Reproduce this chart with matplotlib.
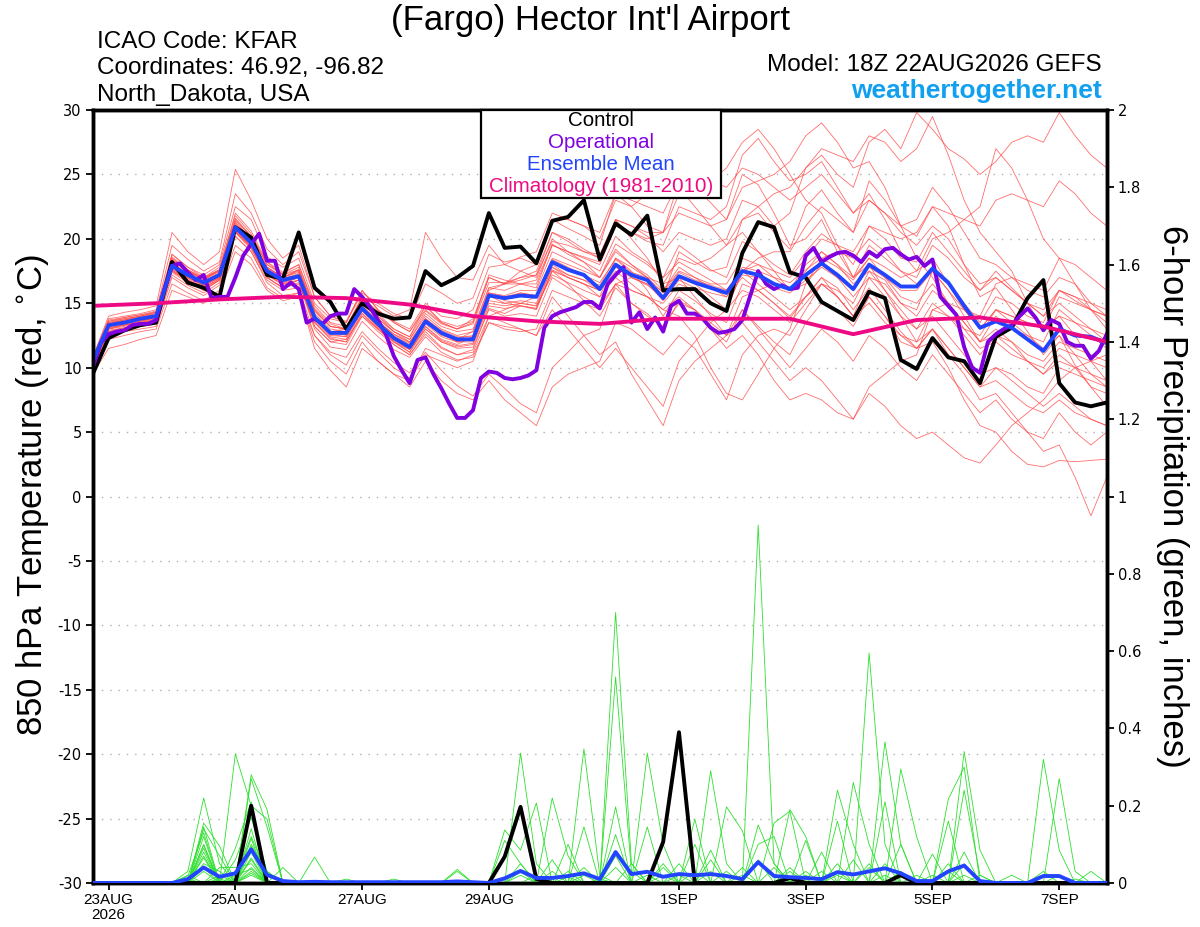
import matplotlib
matplotlib.use('Agg')
import matplotlib.pyplot as plt
from matplotlib.patches import Rectangle
import numpy as np

# ---------------- data ----------------
# time axis: hours relative to 23AUG2026 00Z (run 18Z 22AUG, 6-hourly to 384h)
hours6 = [-6 + 6 * k for k in range(65)]
hours3 = [-6 + 3 * k for k in range(129)]
clim_hours = [-6 + 24 * k for k in range(17)]

xtick_hours = [0, 48, 96, 144, 216, 264, 312, 360]
xtick_labels = ["23AUG\n2026", "25AUG", "27AUG", "29AUG", "1SEP", "3SEP", "5SEP", "7SEP"]

control_t = [9.5,
             12.3, 12.9, 13.3, 13.5, 18.2, 16.6, 16.2, 15.5, 20.9, 20.1, 17.2, 16.9,
             20.5, 16.2, 15.1, 13.0, 15.0, 14.2, 13.8, 13.9, 17.5, 16.4, 17.0, 17.9,
             22.0, 19.3, 19.4, 18.1, 21.4, 21.7, 23.0, 18.4, 21.2, 20.3, 21.8, 16.0,
             16.1, 16.1, 15.0, 14.4, 18.9, 21.3, 20.9, 17.4, 17.0, 15.1, 14.4, 13.7,
             15.9, 15.4, 10.6, 9.9, 12.3, 10.8, 10.5, 8.8, 12.4, 13.1, 15.4, 16.8,
             8.8, 7.3, 7.0, 7.3]

operational_t = [10.0, 11.9, 12.6, 12.8, 12.9, 13.3, 13.4, 13.4, 13.7, 16.0, 17.9, 18.1,
                 17.4, 16.8, 17.2, 15.4, 15.5, 15.5, 17.0, 18.7, 19.6, 20.4, 18.3, 18.3,
                 16.1, 16.6, 16.1, 13.5, 13.8, 13.4, 14.0, 14.2, 14.2, 16.1, 15.5, 14.7,
                 13.7, 12.6, 10.9, 9.8, 8.8, 10.6, 10.8, 9.5, 8.4, 7.2, 6.1, 6.1,
                 6.7, 9.2, 9.7, 9.6, 9.2, 9.1, 9.2, 9.4, 9.8, 13.1, 14.0, 14.3,
                 14.5, 14.7, 15.1, 15.1, 14.6, 16.5, 17.2, 17.8, 13.5, 14.3, 13.0, 13.9,
                 12.8, 14.8, 15.2, 14.2, 14.2, 13.8, 13.1, 12.7, 12.8, 13.0, 13.7, 15.6,
                 17.5, 16.5, 16.1, 16.4, 16.1, 16.2, 18.7, 19.3, 18.2, 18.6, 18.9, 19.0,
                 18.7, 18.2, 19.0, 18.6, 19.2, 19.3, 18.8, 18.4, 18.6, 17.9, 18.4, 15.5,
                 14.8, 14.1, 11.6, 10.0, 9.6, 12.0, 12.6, 13.0, 13.3, 14.0, 14.6, 13.9,
                 12.9, 13.7, 13.4, 12.0, 11.7, 11.7, 10.7, 11.3, 12.6]

ens_mean_t = [10.5,
              13.3, 13.5, 13.8, 14.0, 17.9, 17.2, 16.6, 17.2, 20.9, 19.7, 17.5, 16.8,
              17.1, 13.9, 12.7, 12.7, 14.6, 13.4, 12.3, 11.6, 13.6, 12.7, 12.2, 12.2,
              15.6, 15.4, 15.6, 15.5, 18.2, 17.6, 17.2, 16.1, 18.0, 17.2, 16.8, 15.4,
              17.1, 16.6, 16.2, 15.8, 17.5, 17.2, 16.5, 16.1, 17.2, 18.1, 17.2, 16.1,
              18.0, 17.2, 16.3, 16.3, 17.7, 16.6, 14.8, 13.1, 13.6, 13.1, 12.2, 11.3,
              13.0, 12.5, 12.4, 11.9]

climatology_t = [14.8, 15.0, 15.3, 15.5, 15.4, 14.9, 14.0, 13.6, 13.4,
                 13.8, 13.8, 13.8, 12.6, 13.7, 13.9, 13.2, 12.0]

member_t_01 = [10.8, 13.8, 14.0, 14.2, 14.5, 18.5, 17.6, 17.0, 17.8, 21.8, 20.4, 18.0, 17.3, 18.0, 14.8, 13.5, 13.2, 15.5, 14.2, 13.0, 12.4, 14.8, 13.6, 13.2, 13.6, 17.2, 16.8, 16.5, 16.2, 19.6, 18.8, 18.2, 17.5, 20.2, 19.0, 18.2, 17.0, 19.5, 18.6, 17.6, 17.0, 19.8, 19.0, 18.0, 17.2, 19.0, 20.4, 19.5, 18.0, 21.0, 20.0, 18.5, 18.2, 20.5, 19.0, 17.5, 16.0, 17.5, 16.2, 15.0, 14.5, 16.0, 15.2, 14.5, 14.0]
member_t_02 = [9.8, 12.5, 12.8, 13.0, 13.2, 17.0, 16.2, 15.6, 16.4, 20.2, 19.0, 16.8, 16.0, 16.2, 12.5, 11.2, 10.8, 12.8, 11.5, 10.4, 9.6, 11.2, 9.8, 8.6, 7.8, 9.5, 8.4, 7.2, 6.5, 10.0, 11.2, 12.5, 13.0, 16.5, 17.0, 16.4, 15.5, 19.0, 18.2, 17.5, 17.8, 21.5, 22.0, 20.5, 19.2, 22.5, 23.8, 22.0, 20.5, 24.5, 23.0, 21.0, 20.2, 22.5, 21.0, 18.0, 15.5, 16.2, 14.5, 12.8, 11.0, 12.5, 10.2, 8.5, 7.0]
member_t_03 = [10.2, 13.0, 13.4, 13.6, 13.9, 18.8, 17.8, 17.2, 18.0, 22.5, 21.5, 18.6, 17.8, 18.5, 15.0, 13.8, 13.5, 15.8, 15.0, 14.2, 13.8, 16.5, 15.8, 15.0, 15.4, 18.8, 18.2, 18.5, 18.0, 21.5, 20.8, 20.2, 19.5, 23.5, 22.5, 21.0, 20.5, 24.5, 24.0, 22.8, 21.5, 25.0, 24.2, 22.0, 19.5, 20.0, 21.5, 19.0, 17.0, 18.5, 17.0, 15.5, 15.0, 16.5, 15.0, 13.5, 12.0, 13.0, 12.0, 10.5, 9.5, 11.0, 10.0, 8.5, 8.0]
member_t_04 = [10.6, 13.6, 13.9, 14.1, 14.4, 19.5, 18.4, 17.5, 18.2, 23.5, 22.0, 19.2, 18.0, 19.0, 15.5, 14.0, 13.6, 16.0, 14.5, 13.5, 12.8, 14.8, 13.5, 13.0, 13.8, 17.0, 16.5, 16.8, 17.2, 20.5, 19.8, 19.0, 18.5, 21.5, 21.0, 20.2, 19.0, 20.5, 20.0, 19.5, 20.0, 23.0, 22.5, 21.0, 22.0, 25.5, 26.5, 25.0, 24.0, 27.5, 28.5, 27.0, 29.8, 28.5, 27.0, 26.2, 25.0, 26.0, 27.5, 28.0, 27.5, 29.8, 28.0, 26.5, 25.5]
member_t_05 = [10.0, 12.8, 13.0, 13.2, 13.5, 17.5, 16.8, 16.0, 16.8, 20.5, 19.2, 17.0, 16.2, 16.8, 13.2, 12.0, 12.2, 14.0, 13.0, 12.0, 11.2, 13.0, 12.0, 11.5, 11.6, 14.5, 14.0, 14.2, 14.0, 17.0, 16.2, 15.5, 14.8, 16.5, 15.0, 14.0, 13.2, 15.0, 14.5, 13.0, 12.0, 14.5, 13.2, 12.0, 11.0, 13.5, 15.0, 14.5, 13.2, 15.5, 14.0, 12.0, 11.5, 13.0, 11.0, 9.5, 7.5, 8.0, 6.5, 5.0, 3.5, 4.0, 1.5, -1.5, 1.5]
member_t_06 = [10.3, 13.2, 13.4, 13.6, 13.9, 18.0, 17.0, 16.4, 17.0, 20.8, 19.5, 17.2, 16.5, 17.0, 13.5, 12.3, 12.0, 14.2, 13.0, 11.8, 11.0, 12.8, 11.6, 11.0, 11.4, 14.6, 14.2, 14.8, 14.5, 17.6, 17.0, 16.5, 15.5, 18.5, 17.5, 16.0, 14.0, 16.0, 15.2, 14.2, 13.5, 16.5, 16.0, 15.0, 13.8, 15.5, 17.0, 16.2, 14.5, 16.2, 14.5, 12.8, 11.5, 12.0, 10.0, 7.5, 5.5, 5.0, 3.5, 2.5, 2.3, 2.8, 2.7, 2.8, 2.9]
member_t_07 = [10.4, 13.4, 13.7, 13.9, 14.2, 18.2, 17.4, 16.8, 17.5, 21.2, 20.0, 17.8, 17.0, 17.5, 14.2, 13.0, 12.8, 15.0, 13.8, 12.8, 12.2, 14.2, 13.2, 12.8, 13.0, 16.2, 16.0, 16.5, 16.8, 19.5, 19.0, 18.6, 18.2, 21.0, 20.5, 19.8, 19.5, 22.5, 22.0, 21.5, 22.5, 26.5, 27.8, 26.0, 24.5, 25.0, 26.0, 24.0, 22.0, 23.5, 21.5, 19.0, 17.5, 18.5, 16.5, 14.5, 13.0, 14.5, 13.5, 12.5, 12.0, 14.5, 13.5, 13.0, 12.5]
member_t_08 = [9.6, 12.2, 12.5, 12.8, 13.0, 16.5, 15.8, 15.2, 16.0, 19.5, 18.5, 16.2, 15.4, 15.8, 12.0, 10.5, 9.5, 12.0, 10.5, 9.5, 8.5, 10.5, 9.0, 8.0, 7.5, 9.0, 7.5, 6.5, 5.5, 8.5, 9.5, 10.0, 10.5, 13.5, 13.0, 12.0, 11.0, 12.5, 11.5, 9.5, 7.5, 11.0, 12.5, 13.0, 12.5, 14.5, 16.5, 16.0, 15.0, 17.5, 16.8, 15.0, 14.0, 16.0, 15.0, 13.5, 12.0, 14.0, 13.0, 12.5, 11.5, 12.5, 11.0, 9.5, 8.5]
member_t_09 = [10.1, 13.1, 13.3, 13.6, 13.8, 17.8, 17.0, 16.4, 17.0, 21.0, 19.8, 17.4, 16.6, 17.2, 14.0, 12.8, 12.5, 14.8, 13.6, 12.5, 11.8, 13.8, 12.8, 12.0, 12.2, 15.8, 15.5, 15.8, 15.6, 18.0, 17.2, 16.8, 16.4, 18.5, 17.8, 17.0, 16.5, 18.5, 18.0, 18.5, 19.5, 21.5, 22.5, 23.5, 24.0, 25.5, 27.0, 26.5, 26.0, 28.0, 27.5, 26.0, 27.0, 29.5, 26.5, 23.0, 20.5, 19.0, 17.5, 15.0, 13.0, 14.0, 12.5, 10.5, 9.0]
member_t_10 = [10.7, 13.7, 13.9, 14.1, 14.3, 18.8, 17.8, 17.0, 17.6, 21.6, 20.2, 18.2, 17.2, 17.6, 14.5, 13.2, 13.0, 15.2, 14.0, 12.8, 12.0, 13.8, 12.6, 12.0, 12.4, 15.6, 15.0, 14.8, 14.6, 17.5, 16.5, 15.2, 14.0, 16.2, 15.0, 14.2, 13.0, 15.2, 14.5, 13.5, 12.5, 14.5, 13.0, 11.5, 10.0, 11.5, 13.0, 12.0, 10.5, 12.5, 11.5, 10.0, 9.0, 11.0, 9.5, 8.0, 6.5, 7.5, 6.0, 5.0, 4.5, 6.5, 5.0, 4.0, 5.0]
member_t_11 = [10.2, 13.0, 13.3, 13.5, 13.7, 17.4, 16.6, 16.0, 16.8, 20.6, 19.4, 17.2, 16.4, 16.8, 13.8, 12.8, 13.0, 15.5, 14.8, 14.0, 14.5, 20.5, 18.5, 17.0, 16.8, 19.5, 18.0, 17.5, 17.0, 20.0, 19.0, 18.2, 17.0, 19.2, 18.0, 17.2, 16.0, 17.8, 17.0, 16.2, 15.5, 17.0, 16.0, 15.0, 14.0, 15.5, 17.0, 15.5, 14.0, 15.0, 13.5, 12.5, 12.0, 14.5, 14.0, 13.0, 12.5, 14.5, 14.0, 13.5, 13.0, 15.5, 15.0, 14.5, 14.0]
member_t_12 = [10.5, 13.5, 13.7, 14.0, 14.3, 18.4, 17.5, 16.9, 17.5, 21.4, 20.2, 17.8, 17.0, 17.6, 14.0, 12.8, 12.6, 14.6, 13.6, 12.6, 12.0, 13.6, 12.5, 12.2, 12.8, 16.2, 16.5, 17.5, 18.0, 21.5, 21.5, 21.0, 20.5, 23.5, 23.0, 22.5, 22.0, 24.5, 24.0, 24.5, 25.5, 27.5, 28.5, 27.0, 25.0, 23.0, 22.0, 19.5, 17.0, 18.0, 16.0, 14.0, 12.0, 13.0, 11.5, 10.0, 8.5, 10.0, 9.5, 8.5, 8.0, 10.0, 9.5, 9.0, 8.5]
member_t_13 = [9.9, 12.6, 12.9, 13.2, 13.4, 17.2, 16.4, 15.8, 16.6, 20.2, 19.0, 16.6, 15.6, 15.8, 11.5, 9.8, 8.5, 11.5, 10.5, 9.5, 9.0, 11.0, 10.5, 10.0, 10.5, 14.0, 14.5, 15.0, 15.5, 18.5, 18.0, 17.5, 17.0, 19.0, 18.0, 17.0, 15.5, 17.0, 16.5, 15.5, 14.5, 16.0, 15.5, 14.5, 13.5, 15.0, 16.5, 15.5, 14.0, 17.0, 16.5, 15.0, 14.5, 17.5, 16.5, 15.0, 13.5, 15.5, 15.0, 14.0, 13.5, 16.0, 15.5, 14.5, 13.5]
member_t_14 = [10.4, 13.3, 13.6, 13.8, 14.0, 18.0, 17.2, 16.6, 17.3, 21.0, 19.8, 17.6, 16.9, 17.3, 13.8, 12.6, 12.4, 14.5, 13.2, 12.0, 11.2, 13.2, 12.2, 11.8, 12.4, 16.0, 16.5, 17.0, 17.5, 20.5, 20.0, 19.2, 18.5, 21.5, 20.0, 18.5, 16.5, 17.0, 15.5, 14.0, 12.5, 13.5, 12.0, 10.5, 9.0, 10.0, 9.0, 7.5, 6.0, 8.5, 9.5, 10.5, 11.0, 14.5, 15.0, 14.5, 14.0, 16.5, 17.0, 16.5, 16.0, 18.5, 18.0, 17.0, 16.0]
member_t_15 = [10.0, 12.9, 13.1, 13.4, 13.6, 17.6, 16.8, 16.2, 16.9, 20.6, 19.4, 17.2, 16.5, 16.8, 13.2, 12.0, 11.8, 14.0, 12.8, 11.8, 11.0, 12.6, 11.5, 11.0, 11.2, 14.0, 13.5, 13.0, 12.5, 15.5, 14.0, 12.5, 11.0, 12.0, 9.5, 7.5, 5.5, 9.0, 10.5, 11.5, 12.5, 15.5, 16.0, 16.5, 16.0, 18.0, 19.0, 18.0, 17.0, 19.5, 18.5, 17.5, 17.0, 19.5, 18.5, 17.0, 16.0, 17.0, 16.0, 15.0, 14.0, 15.0, 14.0, 13.0, 12.0]
member_t_16 = [10.6, 13.5, 13.8, 14.0, 14.3, 18.3, 17.5, 16.8, 17.6, 21.3, 20.0, 17.8, 17.0, 17.6, 14.4, 13.2, 13.0, 15.0, 13.8, 12.8, 12.2, 14.0, 13.0, 12.5, 12.8, 15.8, 15.2, 15.0, 14.8, 17.8, 17.0, 16.5, 16.0, 18.0, 17.0, 16.5, 16.0, 17.5, 17.0, 16.5, 16.5, 18.5, 18.0, 17.5, 17.0, 18.5, 20.0, 19.5, 19.0, 21.0, 20.5, 20.0, 20.5, 22.5, 22.0, 21.5, 21.0, 23.0, 23.5, 23.0, 22.5, 24.5, 23.5, 22.0, 21.0]
member_t_17 = [10.3, 13.2, 13.5, 13.7, 13.9, 17.7, 17.0, 16.4, 17.1, 20.8, 19.6, 17.4, 16.7, 17.0, 13.7, 12.5, 12.4, 14.4, 13.2, 12.2, 11.5, 13.4, 12.4, 12.0, 12.0, 15.2, 15.0, 15.2, 15.0, 17.8, 17.2, 16.8, 16.0, 17.8, 17.0, 16.5, 15.2, 16.8, 16.2, 15.8, 15.5, 17.2, 17.0, 16.2, 15.8, 16.8, 17.8, 17.0, 16.0, 17.8, 17.0, 16.0, 16.0, 17.5, 16.0, 14.0, 12.0, 12.5, 11.5, 10.5, 9.5, 10.5, 10.0, 9.5, 9.0]
member_t_18 = [10.1, 13.0, 13.2, 13.5, 13.7, 17.5, 16.7, 16.1, 16.8, 20.5, 19.3, 17.0, 16.2, 16.5, 13.5, 12.2, 12.0, 14.2, 13.0, 12.0, 11.4, 13.0, 12.0, 11.6, 11.8, 14.8, 14.6, 14.8, 14.6, 17.5, 17.0, 16.5, 16.0, 17.5, 16.5, 15.5, 14.5, 15.5, 14.5, 13.0, 11.5, 12.5, 11.0, 9.0, 7.5, 8.0, 7.5, 6.5, 6.0, 8.0, 7.0, 5.5, 4.5, 5.0, 4.0, 3.0, 2.6, 4.0, 5.5, 6.5, 7.5, 9.0, 10.0, 10.5, 11.0]
member_t_19 = [10.8, 14.0, 14.3, 14.5, 14.8, 20.5, 19.0, 18.0, 19.0, 25.4, 23.0, 20.0, 18.5, 19.5, 15.5, 14.0, 13.5, 16.0, 14.5, 13.5, 12.8, 14.5, 13.5, 13.0, 13.5, 17.0, 16.5, 16.5, 16.5, 19.5, 19.0, 18.5, 18.0, 21.0, 20.5, 20.0, 20.5, 23.5, 24.0, 24.5, 24.0, 25.5, 25.0, 24.0, 23.0, 24.0, 25.0, 23.5, 22.0, 23.0, 22.0, 20.5, 19.5, 21.0, 20.0, 18.0, 16.5, 17.0, 16.0, 15.0, 14.0, 16.0, 15.5, 15.0, 14.5]
member_t_20 = [9.5, 11.5, 11.8, 12.2, 12.5, 16.0, 15.5, 15.0, 15.8, 19.0, 18.0, 16.0, 15.2, 15.5, 12.5, 11.0, 10.2, 12.5, 11.2, 10.0, 9.2, 11.5, 11.0, 10.5, 11.0, 13.5, 13.0, 12.8, 13.0, 16.0, 15.5, 15.0, 14.5, 16.5, 16.0, 15.5, 15.0, 16.5, 16.0, 15.0, 14.5, 17.5, 18.0, 17.0, 16.0, 17.5, 19.0, 18.0, 16.5, 17.5, 16.0, 14.5, 13.0, 14.0, 12.5, 11.0, 9.5, 10.0, 9.0, 8.0, 7.0, 8.0, 7.0, 6.0, 5.5]
member_t_21 = [10.4, 13.4, 13.6, 13.9, 14.1, 18.6, 17.6, 16.9, 17.6, 22.0, 20.6, 18.2, 17.4, 18.0, 14.6, 13.4, 13.0, 15.4, 14.4, 13.6, 13.0, 15.0, 14.0, 13.8, 14.5, 17.8, 18.0, 18.6, 19.0, 22.0, 21.5, 21.0, 20.0, 23.0, 22.5, 23.5, 25.0, 24.0, 22.5, 21.0, 19.5, 20.5, 19.0, 17.5, 16.0, 16.5, 18.0, 17.0, 15.5, 17.0, 15.5, 14.0, 13.0, 15.0, 14.0, 12.5, 11.0, 12.5, 12.0, 11.0, 10.5, 12.0, 11.5, 11.0, 10.5]
member_t_22 = [10.0, 12.8, 13.1, 13.3, 13.6, 17.6, 16.8, 16.2, 16.9, 20.6, 19.4, 17.0, 16.2, 16.6, 13.0, 11.6, 11.4, 13.6, 12.4, 11.4, 10.8, 12.4, 11.2, 10.6, 10.8, 13.5, 13.2, 13.0, 12.5, 14.5, 13.0, 11.5, 10.0, 11.5, 10.0, 8.5, 7.0, 10.5, 12.0, 13.5, 14.5, 17.5, 18.5, 19.0, 19.0, 21.0, 22.5, 21.5, 20.5, 23.0, 22.0, 21.0, 21.5, 24.0, 22.5, 20.5, 18.5, 18.0, 17.0, 16.0, 15.5, 17.0, 16.5, 15.0, 14.0]
member_t_23 = [10.5, 13.4, 13.7, 13.9, 14.1, 18.1, 17.3, 16.7, 17.4, 21.1, 19.9, 17.7, 17.0, 17.4, 14.0, 12.8, 12.8, 14.8, 13.6, 12.6, 11.9, 13.8, 12.9, 12.4, 12.4, 15.6, 15.4, 15.8, 15.6, 18.4, 17.8, 17.2, 16.6, 18.4, 17.4, 17.0, 15.8, 17.4, 16.8, 16.4, 16.0, 17.8, 17.5, 17.0, 16.6, 17.6, 18.5, 17.8, 16.8, 18.5, 17.8, 17.0, 17.5, 20.0, 20.5, 21.5, 22.5, 27.0, 25.5, 23.0, 20.0, 18.5, 16.5, 14.5, 13.0]
member_t_24 = [10.2, 13.1, 13.3, 13.5, 13.8, 17.7, 16.9, 16.3, 17.0, 20.7, 19.5, 17.3, 16.6, 17.0, 13.6, 12.4, 12.2, 14.4, 13.1, 12.1, 11.4, 13.2, 12.1, 11.7, 11.9, 15.0, 14.8, 15.0, 14.8, 17.2, 16.6, 16.0, 15.5, 17.0, 16.0, 15.5, 14.5, 14.0, 12.5, 10.0, 8.0, 7.5, 9.5, 11.5, 13.0, 16.5, 18.5, 19.0, 18.5, 20.0, 19.0, 17.5, 16.5, 17.5, 16.0, 14.5, 13.0, 14.5, 14.0, 13.5, 13.0, 14.0, 13.5, 12.5, 11.5]
member_t_25 = [10.6, 13.6, 13.8, 14.0, 14.2, 18.4, 17.5, 16.9, 17.6, 21.5, 20.2, 18.0, 17.2, 17.8, 14.4, 13.2, 13.0, 15.2, 14.0, 13.0, 12.4, 14.4, 13.4, 13.0, 13.4, 16.6, 16.6, 17.0, 17.2, 19.8, 19.5, 19.0, 18.8, 21.5, 21.0, 20.5, 20.5, 22.0, 21.5, 21.0, 21.5, 24.0, 24.5, 25.0, 26.0, 28.0, 29.0, 27.5, 25.5, 26.0, 24.0, 21.0, 18.5, 17.0, 15.0, 13.0, 11.5, 12.0, 11.0, 10.5, 10.0, 11.5, 11.0, 10.5, 10.0]
member_t_26 = [10.3, 13.3, 13.5, 13.7, 14.0, 17.9, 17.1, 16.5, 17.2, 21.0, 19.7, 17.5, 16.8, 17.2, 13.9, 12.7, 12.6, 14.6, 13.4, 12.4, 11.7, 13.7, 12.7, 12.3, 12.5, 15.8, 15.6, 16.0, 16.0, 19.0, 18.4, 17.8, 17.0, 19.6, 18.8, 18.0, 17.0, 18.2, 17.5, 16.8, 16.0, 17.5, 16.5, 15.5, 14.5, 15.5, 16.5, 15.5, 14.0, 15.5, 14.0, 12.5, 11.5, 13.0, 11.5, 10.0, 8.5, 9.0, 8.0, 7.0, 6.5, 7.5, 6.5, 6.0, 5.5]

# 6-hour precipitation (inches); ensemble members given as {step index: amount}, other steps 0
control_p = {10: 0.20, 26: 0.068, 27: 0.197, 28: 0.01, 36: 0.106, 37: 0.39, 44: 0.013, 51: 0.02}
ens_mean_p = [0, 0, 0, 0, 0, 0, 0.01, 0.04, 0.016, 0.025, 0.087, 0.021, 0.005,
              0.002, 0.003, 0.002, 0.002, 0.002, 0.002, 0.002, 0.002, 0.002, 0.002, 0.004, 0.002,
              0, 0.012, 0.031, 0.013, 0.013, 0.018, 0.025, 0.01, 0.08, 0.023, 0.029, 0.016,
              0.023, 0.02, 0.023, 0.018, 0.01, 0.054, 0.018, 0.015, 0.013, 0.01, 0.028, 0.022,
              0.03, 0.038, 0.025, 0.005, 0.005, 0.03, 0.045, 0.005, 0, 0, 0, 0.018,
              0.018, 0, 0, 0]
member_p_01 = {6: 0.03, 7: 0.22, 8: 0.05, 27: 0.336, 28: 0.05, 33: 0.70, 34: 0.05, 42: 0.15, 43: 0.05, 49: 0.595, 50: 0.1, 55: 0.24, 56: 0.02}
member_p_02 = {7: 0.155, 8: 0.096, 10: 0.28, 11: 0.19, 29: 0.22, 30: 0.07, 33: 0.533, 34: 0.03, 39: 0.29, 40: 0.05, 47: 0.24, 48: 0.1, 55: 0.34, 56: 0.085}
member_p_03 = {7: 0.145, 9: 0.334, 10: 0.2, 11: 0.165, 31: 0.347, 32: 0.02, 42: 0.926, 43: 0.05, 50: 0.365, 51: 0.1, 60: 0.32, 61: 0.085}
member_p_04 = {7: 0.14, 8: 0.07, 10: 0.27, 11: 0.145, 26: 0.137, 27: 0.085, 28: 0.207, 35: 0.336, 36: 0.1, 44: 0.19, 45: 0.12, 51: 0.295, 52: 0.12, 61: 0.27, 62: 0.03}
member_p_05 = {6: 0.018, 7: 0.13, 9: 0.09, 10: 0.21, 14: 0.067, 31: 0.145, 33: 0.197, 40: 0.197, 41: 0.135, 48: 0.26, 49: 0.1, 54: 0.217, 55: 0.30}
member_p_06 = {7: 0.098, 9: 0.06, 10: 0.17, 11: 0.03, 26: 0.11, 27: 0.05, 35: 0.145, 38: 0.165, 43: 0.155, 44: 0.186, 47: 0.16, 50: 0.21, 54: 0.16}
member_p_07 = {7: 0.09, 10: 0.115, 12: 0.04, 23: 0.035, 30: 0.1, 33: 0.125, 36: 0.05, 38: 0.1, 42: 0.1, 43: 0.12, 46: 0.08, 53: 0.075, 58: 0.02}
member_p_08 = {7: 0.08, 10: 0.095, 23: 0.03, 27: 0.05, 34: 0.05, 37: 0.05, 39: 0.085, 45: 0.11, 51: 0.1, 63: 0.03}
member_p_09 = {7: 0.065, 10: 0.08, 16: 0.01, 29: 0.06, 39: 0.06, 41: 0.04, 47: 0.05, 55: 0.05}
member_p_10 = {7: 0.05, 8: 0.03, 10: 0.065, 19: 0.01, 30: 0.03, 36: 0.04, 45: 0.03, 49: 0.04, 56: 0.02}
member_p_11 = {6: 0.01, 8: 0.04, 9: 0.04, 10: 0.05, 32: 0.01, 37: 0.02, 44: 0.03, 50: 0.05, 54: 0.03}
member_p_12 = {7: 0.1, 9: 0.02, 10: 0.036, 28: 0.02, 31: 0.04, 40: 0.03, 48: 0.06, 52: 0.02, 61: 0.02}
member_p_13 = {7: 0.12, 10: 0.1, 11: 0.03, 27: 0.03, 33: 0.07, 43: 0.04, 47: 0.02, 55: 0.08}
member_p_14 = {8: 0.02, 10: 0.14, 29: 0.03, 35: 0.02, 42: 0.06, 49: 0.05, 60: 0.03}
member_p_15 = {7: 0.07, 10: 0.06, 31: 0.02, 38: 0.03, 46: 0.03, 54: 0.05}
member_p_16 = {9: 0.01, 10: 0.12, 11: 0.02, 33: 0.04, 44: 0.04, 51: 0.03, 62: 0.01}
member_p_17 = {7: 0.04, 10: 0.025, 27: 0.02, 39: 0.03, 50: 0.02}
member_p_18 = {6: 0.02, 10: 0.04, 36: 0.02, 47: 0.03, 55: 0.02}
member_p_19 = {8: 0.01, 10: 0.03, 41: 0.02, 53: 0.02}
member_p_20 = {7: 0.03, 10: 0.02, 30: 0.015, 45: 0.02}

members_t = [member_t_01, member_t_02, member_t_03, member_t_04, member_t_05,
             member_t_06, member_t_07, member_t_08, member_t_09, member_t_10,
             member_t_11, member_t_12, member_t_13, member_t_14, member_t_15,
             member_t_16, member_t_17, member_t_18, member_t_19, member_t_20,
             member_t_21, member_t_22, member_t_23, member_t_24, member_t_25,
             member_t_26]
members_p = [member_p_01, member_p_02, member_p_03, member_p_04, member_p_05,
             member_p_06, member_p_07, member_p_08, member_p_09, member_p_10,
             member_p_11, member_p_12, member_p_13, member_p_14, member_p_15,
             member_p_16, member_p_17, member_p_18, member_p_19, member_p_20]


def full_series(sparse):
    arr = np.zeros(len(hours6))
    for k, v in sparse.items():
        arr[k] = v
    return arr


# ---------------- style ----------------
FONT = ['Liberation Sans', 'DejaVu Sans']
RED = '#ff4a4a'
GREEN = '#2ee02e'
PURPLE = '#8000e0'
BLUE = '#2244ff'
PINK = '#ee0a85'
plt.rcParams['font.family'] = FONT
plt.rcParams['axes.unicode_minus'] = False

fig = plt.figure(figsize=(12, 9.27), dpi=100)
ax = fig.add_axes([0.0773, 0.0475, 0.845, 0.8338])
ax2 = ax.twinx()

# gridlines (temperature axis)
for g in range(-25, 30, 5):
    ax.axhline(g, color='#b0b0b0', lw=1.0, ls=(0, (1, 5)), zorder=0.5)

for m in members_t:
    ax.plot(hours6, m, color=RED, lw=0.6, alpha=0.8, zorder=1)
ax.plot(hours6, control_t, color='black', lw=2.8, zorder=3)
ax.plot(hours3, operational_t, color=PURPLE, lw=2.8, zorder=4)
ax.plot(hours6, ens_mean_t, color=BLUE, lw=2.8, zorder=5)
ax.plot(clim_hours, climatology_t, color=PINK, lw=2.8, zorder=6)

for m in members_p:
    ax2.plot(hours6, full_series(m), color=GREEN, lw=0.6, zorder=1)
ax2.plot(hours6, full_series(control_p), color='black', lw=2.8, zorder=3)
ax2.plot(hours6, ens_mean_p, color=BLUE, lw=2.8, zorder=4)

ax.set_xlim(-6, 378)
ax.set_ylim(-30, 30)
ax2.set_ylim(0, 2)
ax.set_yticks(range(-30, 31, 5))
ax2.set_yticks([0, 0.2, 0.4, 0.6, 0.8, 1, 1.2, 1.4, 1.6, 1.8, 2])
ax2.set_yticklabels(['0', '0.2', '0.4', '0.6', '0.8', '1', '1.2', '1.4', '1.6', '1.8', '2'])
ax.set_xticks(xtick_hours)
ax.set_xticklabels(xtick_labels, linespacing=1.15)

for a in (ax, ax2):
    for s in a.spines.values():
        s.set_linewidth(2.5)
    a.tick_params(direction='out', length=5, width=1.3, labelsize=10.5, pad=3)
ax.tick_params(axis='x', labelsize=11, pad=2)
for lab in ax.get_yticklabels() + ax2.get_yticklabels():
    lab.set_family(['DejaVu Sans'])

# axis labels
fig.text(0.027, 0.466, '850 hPa Temperature (red, $^{\\circ}$C)', rotation=90,
         ha='center', va='center', fontsize=25)
fig.text(0.977, 0.465, '6-hour Precipitation (green, inches)', rotation=270,
         ha='center', va='center', fontsize=25)

# header texts
fig.text(0.492, 0.978, "(Fargo) Hector Int'l Airport", ha='center', va='center', fontsize=25)
fig.text(0.081, 0.955, 'ICAO Code: KFAR', ha='left', va='center', fontsize=17.5)
fig.text(0.081, 0.927, 'Coordinates: 46.92, -96.82', ha='left', va='center', fontsize=17.5)
fig.text(0.081, 0.898, 'North_Dakota, USA', ha='left', va='center', fontsize=17.5)
fig.text(0.918, 0.930, 'Model: 18Z 22AUG2026 GEFS', ha='right', va='center', fontsize=17.5)
fig.text(0.918, 0.902, 'weathertogether.net', ha='right', va='center', fontsize=19,
         fontweight='bold', color='#11a0f0')

# legend box
fig.patches.append(Rectangle((0.4008, 1 - 198 / 927), 0.2, 88 / 927,
                             transform=fig.transFigure, facecolor='white',
                             edgecolor='black', lw=1.6, zorder=10))
for txt, col, yp in [('Control', 'black', 121), ('Operational', PURPLE, 142),
                     ('Ensemble Mean', BLUE, 164), ('Climatology (1981-2010)', PINK, 186)]:
    fig.text(0.5008, 1 - yp / 927, txt, ha='center', va='center', fontsize=14.8,
             color=col, zorder=11)

fig.savefig('out.png', dpi=100)
